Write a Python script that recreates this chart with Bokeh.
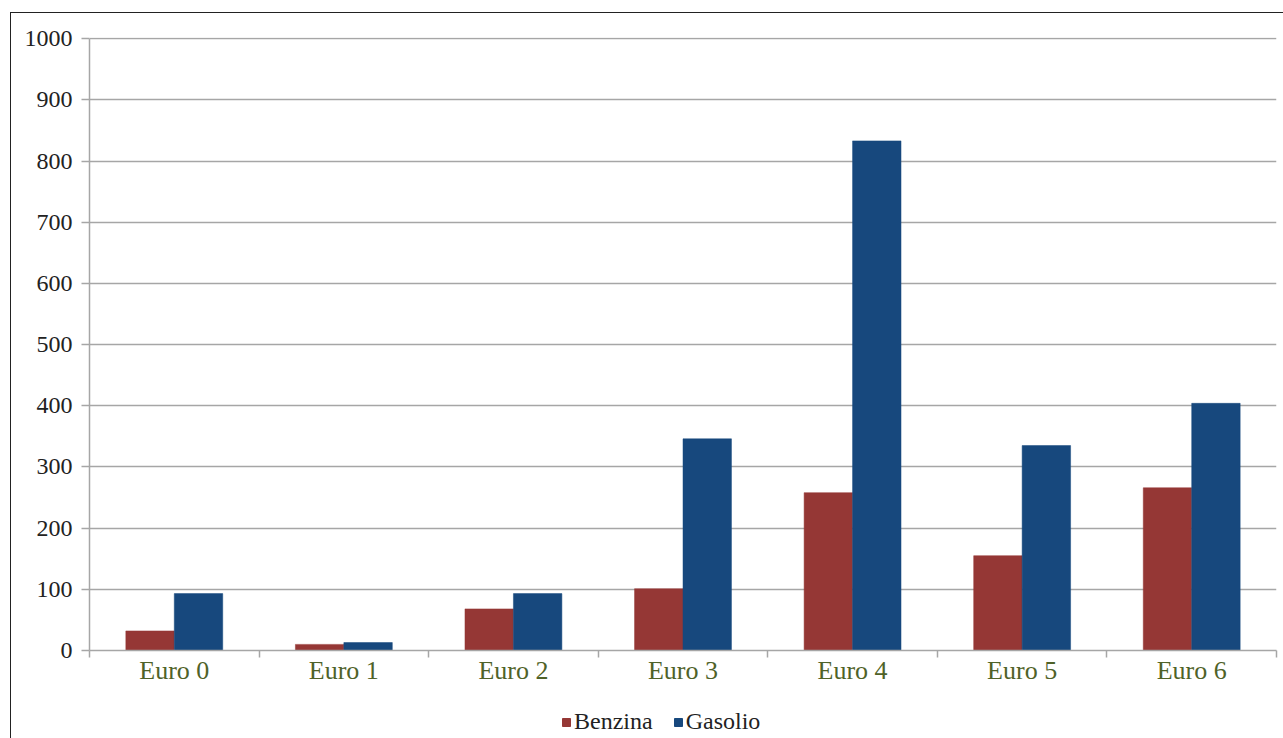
from bokeh.plotting import figure
from bokeh.models import FixedTicker, Legend, LegendItem, Range1d
from bokeh.layouts import column
from bokeh.embed import file_html
from bokeh.resources import INLINE

categories = ["Euro 0", "Euro 1", "Euro 2", "Euro 3", "Euro 4", "Euro 5", "Euro 6"]
benzina = [32, 10, 68, 101, 258, 155, 266]
gasolio = [93, 13, 93, 346, 833, 335, 404]
y_ticks = [0, 100, 200, 300, 400, 500, 600, 700, 800, 900, 1000]
series_names = ["Benzina", "Gasolio"]

RED = "#953735"
BLUE = "#17487d"
GRID = "#a6a6a6"
FONT = "Liberation Serif"

n = len(categories)
bw = 0.2857
centers = [i + 0.5 for i in range(n)]
xr = [c - bw / 2 for c in centers]
xb = [c + bw / 2 for c in centers]

W = 1273
p = figure(width=W, height=690, output_backend="svg", toolbar_location=None,
           x_range=Range1d(0, n), y_range=Range1d(0, 1002),
           min_border_left=78, min_border_top=24, min_border_right=8, min_border_bottom=53)
p.outline_line_color = None
p.background_fill_color = "white"
p.border_fill_color = "white"

r1 = p.vbar(x=xr, top=benzina, width=bw, bottom=0, fill_color=RED, line_color=RED, line_width=0.5)
r2 = p.vbar(x=xb, top=gasolio, width=bw, bottom=0, fill_color=BLUE, line_color=BLUE, line_width=0.5)

# x axis
xa = p.xaxis[0]
xa.ticker = FixedTicker(ticks=centers, minor_ticks=list(range(n + 1)))
xa.major_label_overrides = {c: lab for c, lab in zip(centers, categories)}
xa.major_tick_out = 0
xa.major_tick_in = 0
xa.minor_tick_out = 7
xa.minor_tick_in = 0
xa.minor_tick_line_color = GRID
xa.minor_tick_line_width = 1.5
xa.axis_line_color = GRID
xa.axis_line_width = 1.5
xa.major_label_text_font = FONT
xa.major_label_text_font_size = "26px"
xa.major_label_text_color = "#4f6228"
xa.major_label_standoff = -2

# y axis
ya = p.yaxis[0]
ya.ticker = FixedTicker(ticks=y_ticks)
ya.bounds = (0, 1000)
ya.major_tick_out = 8
ya.major_tick_in = 0
ya.minor_tick_out = 0
ya.minor_tick_in = 0
ya.major_tick_line_color = GRID
ya.major_tick_line_width = 1.5
ya.axis_line_color = GRID
ya.axis_line_width = 1.5
ya.major_label_text_font = FONT
ya.major_label_text_font_size = "24px"
ya.major_label_text_color = "#222222"
ya.major_label_standoff = 9

p.xgrid.grid_line_color = None
p.ygrid.grid_line_color = GRID
p.ygrid.grid_line_width = 1.5
p.ygrid.ticker = FixedTicker(ticks=y_ticks)

# legend strip
lp = figure(width=W, height=36, output_backend="svg", toolbar_location=None,
            x_range=Range1d(0, 1), y_range=Range1d(0, 1),
            min_border=0, min_border_left=0, min_border_right=0, min_border_top=0, min_border_bottom=0)
lp.axis.visible = False
lp.grid.visible = False
lp.outline_line_color = None
lp.border_fill_color = "white"
lr1 = lp.vbar(x=[-10], top=[-10], bottom=[-11], width=0.1, fill_color=RED, line_color=RED)
lr2 = lp.vbar(x=[-10], top=[-10], bottom=[-11], width=0.1, fill_color=BLUE, line_color=BLUE)
legend = Legend(items=[LegendItem(label=series_names[0], renderers=[lr1]),
                       LegendItem(label=series_names[1], renderers=[lr2])],
                orientation="horizontal", location=(472, 4),
                glyph_width=10, glyph_height=10, label_standoff=3, spacing=20,
                label_text_font=FONT, label_text_font_size="24px", label_text_color="#222222",
                border_line_color=None, background_fill_alpha=0, padding=2, margin=0)
lp.add_layout(legend, "center")

layout = column(p, lp, spacing=0)
layout.margin = (12, 0, 0, 10)
layout.styles = {"border-left": "1.5px solid #222", "border-top": "1.5px solid #222"}

open("out.html", "w").write(file_html(layout, INLINE))
